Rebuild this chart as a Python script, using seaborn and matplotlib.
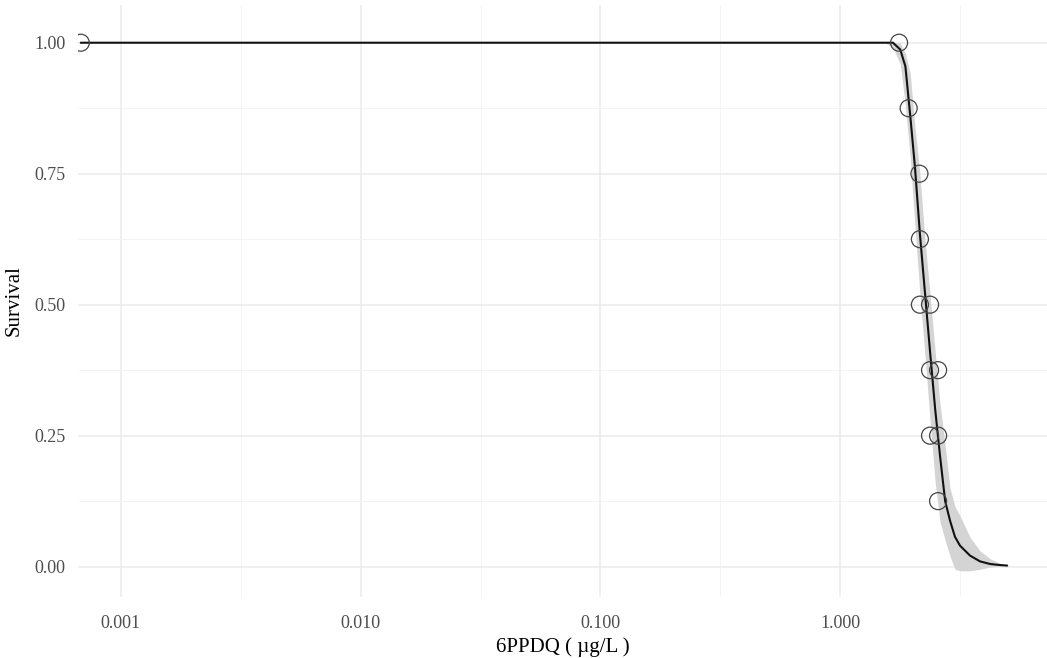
import numpy as np
import pandas as pd
import seaborn as sns
import matplotlib.pyplot as plt
from matplotlib.ticker import FixedLocator, FixedFormatter

# observed survival (control plotted at a small stand-in concentration)
conc = [0.00068, 1.76, 1.93, 2.14, 2.15, 2.15, 2.37, 2.37, 2.56, 2.37, 2.56, 2.56]
surv = [1.00, 1.00, 0.875, 0.75, 0.625, 0.50, 0.50, 0.375, 0.375, 0.25, 0.25, 0.125]

# fitted dose-response curve and its confidence band
fit_conc = [0.00068, 1.54, 1.66, 1.78, 1.87, 1.96, 2.05, 2.15, 2.26, 2.37, 2.49,
            2.61, 2.74, 2.87, 3.01, 3.16, 3.48, 3.83, 4.22, 4.64, 4.97]
fit_surv = [1.00, 1.00, 1.00, 0.987, 0.955, 0.86, 0.763, 0.635, 0.52, 0.41, 0.30,
            0.21, 0.125, 0.088, 0.057, 0.040, 0.021, 0.010, 0.005, 0.003, 0.002]
fit_lower = [1.00, 1.00, 0.99, 0.96, 0.88, 0.78, 0.65, 0.52, 0.40, 0.28, 0.16,
             0.085, 0.05, 0.02, -0.005, -0.008, -0.008, -0.005, -0.001, 0.001, 0.002]
fit_upper = [1.00, 1.00, 1.00, 1.00, 0.98, 0.94, 0.84, 0.75, 0.62, 0.52, 0.41,
             0.31, 0.23, 0.15, 0.115, 0.097, 0.056, 0.030, 0.015, 0.006, 0.002]

x_breaks = [0.001, 0.01, 0.1, 1.0]
x_labels = ['0.001', '0.010', '0.100', '1.000']
y_breaks = [0.0, 0.25, 0.5, 0.75, 1.0]
y_labels = ['0.00', '0.25', '0.50', '0.75', '1.00']

obs = pd.DataFrame({'conc': conc, 'surv': surv})
fit = pd.DataFrame({'conc': fit_conc, 'surv': fit_surv,
                    'lower': fit_lower, 'upper': fit_upper})

sns.set_theme(style='white')
plt.rcParams['font.family'] = ['Liberation Serif', 'DejaVu Serif']

fig = plt.figure(figsize=(10.47, 6.58), dpi=100)
ax = fig.add_axes([0.0745, 0.0927, 0.9255, 0.8997])
ax.set_xscale('log')

ax.fill_between(fit['conc'], fit['lower'], fit['upper'], color='#d4d4d4',
                linewidth=0, zorder=2)
sns.lineplot(data=fit, x='conc', y='surv', color='#111111', linewidth=1.5,
             ax=ax, zorder=3)
sns.scatterplot(data=obs, x='conc', y='surv', marker='o', s=150,
                facecolor='none', edgecolor='#444444', linewidth=0.9,
                ax=ax, zorder=4)

ax.set_xlim(10 ** -3.179, 10 ** 0.8625)
ax.set_ylim(-0.058, 1.072)

# grid like theme_minimal
minor_x = [10 ** -2.5, 10 ** -1.5, 10 ** -0.5, 10 ** 0.5]
minor_y = [0.125, 0.375, 0.625, 0.875]
ax.xaxis.set_major_locator(FixedLocator(x_breaks))
ax.xaxis.set_major_formatter(FixedFormatter(x_labels))
ax.xaxis.set_minor_locator(FixedLocator(minor_x))
ax.yaxis.set_major_locator(FixedLocator(y_breaks))
ax.yaxis.set_major_formatter(FixedFormatter(y_labels))
ax.yaxis.set_minor_locator(FixedLocator(minor_y))
ax.grid(which='major', color='#ebebeb', linewidth=1.1, zorder=0)
ax.grid(which='minor', color='#f2f2f2', linewidth=0.6, zorder=0)
ax.set_axisbelow(True)
for s in ax.spines.values():
    s.set_visible(False)
ax.tick_params(which='both', length=0, labelsize=13, labelcolor='#4d4d4d')
ax.tick_params(axis='x', pad=13)
ax.tick_params(axis='y', pad=9)

ax.set_xlabel('6PPDQ ( µg/L )', fontsize=15, color='black', labelpad=4)
ax.set_ylabel('Survival', fontsize=15, color='black', labelpad=8)

fig.savefig('out.png', dpi=100)
